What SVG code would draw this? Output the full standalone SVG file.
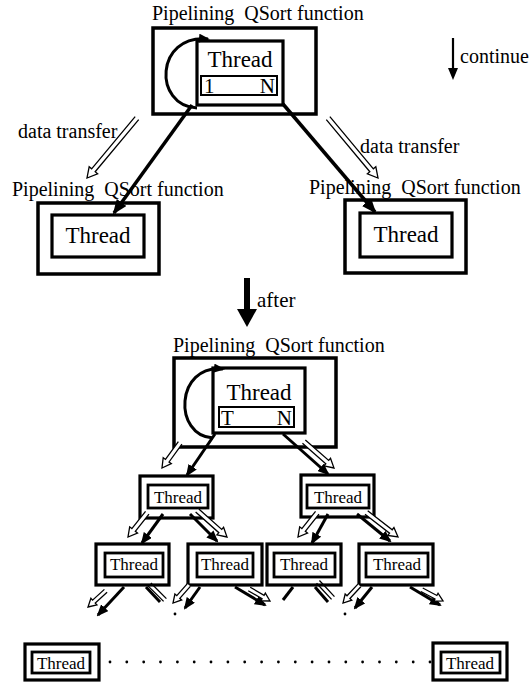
<svg xmlns="http://www.w3.org/2000/svg" xmlns:xlink="http://www.w3.org/1999/xlink" width="531" height="687" viewBox="0 0 531 687" font-family="'Liberation Serif', Tinos, 'DejaVu Serif', serif">
  <style>
    text { font-family: 'Liberation Serif', Tinos, 'DejaVu Serif', serif; fill: #000; }
    .title { font-size: 20px; white-space: pre; }
    .lbl { font-size: 20px; }
    .big { font-size: 23px; text-anchor: middle; }
    .mid { font-size: 21px; }
    .sm { font-size: 17px; text-anchor: middle; }
    .box { fill: #fff; stroke: #000; stroke-width: 3.5; }
    .ibox { fill: #fff; stroke: #000; stroke-width: 3.2; }
    .sub { fill: #fff; stroke: #000; stroke-width: 2; }
    .nbo { fill: #fff; stroke: #000; stroke-width: 3.2; }
    .nbi { fill: #fff; stroke: #000; stroke-width: 2.8; }
    .thick { fill: none; stroke: #000; stroke-width: 3.5; }
    .thin { fill: none; stroke: #000; stroke-width: 3; }
    .hollow { fill: #fff; stroke: #000; stroke-width: 1.3; stroke-linejoin: miter; }
    .loop { fill: none; stroke: #000; stroke-width: 3; }
  </style>
  <defs>
    <marker id="hBig" markerUnits="userSpaceOnUse" markerWidth="16" markerHeight="12" refX="13" refY="6" orient="auto">
      <path d="M0,0 L15,6 L0,12 z" fill="#000"/>
    </marker>
    <marker id="hSm" markerUnits="userSpaceOnUse" markerWidth="12" markerHeight="10" refX="10" refY="5" orient="auto">
      <path d="M0,0 L12,5 L0,10 z" fill="#000"/>
    </marker>
    <marker id="hLoop" markerUnits="userSpaceOnUse" markerWidth="11" markerHeight="9" refX="9" refY="4.5" orient="auto">
      <path d="M0,0 L11,4.5 L0,9 z" fill="#000"/>
    </marker>
    <!-- hollow double-line arrows, tip at origin pointing along +x -->
    <path id="haLong" class="hollow" d="M -78 -2.3 L -10 -2.3 L -10 -5.5 L 0 0 L -10 5.5 L -10 2.3 L -78 2.3"/>
    <path id="haMid" class="hollow" d="M -40 -2.2 L -9 -2.2 L -9 -5 L 0 0 L -9 5 L -9 2.2 L -40 2.2"/>
    <path id="haShort" class="hollow" d="M -31 -2.2 L -9 -2.2 L -9 -5 L 0 0 L -9 5 L -9 2.2 L -31 2.2"/>
    <path id="haTiny" class="hollow" d="M -24 -2 L -8 -2 L -8 -4.5 L 0 0 L -8 4.5 L -8 2 L -24 2"/>
    <path id="dbl" class="hollow" d="M -22 -2 L 0 -2 M -22 2 L 0 2"/>
  </defs>

  <!-- stage 1: root function -->
  <g id="root-function">
    <text class="title" x="152" y="20">Pipelining  QSort function</text>
    <rect class="box" x="153" y="28" width="163" height="86"/>
    <rect class="ibox" x="197" y="41" width="86" height="64"/>
    <text class="big" x="240" y="67">Thread</text>
    <rect class="sub" x="201" y="76" width="76" height="19"/>
    <text class="mid" x="204" y="93">1</text>
    <text class="mid" x="275" y="93" text-anchor="end">N</text>
  </g>

  <g id="left-function">
    <text class="title" x="12" y="196">Pipelining  QSort function</text>
    <rect class="box" x="38" y="203" width="121" height="71"/>
    <rect class="ibox" x="52" y="215" width="92" height="42"/>
    <text class="big" x="98" y="243">Thread</text>
  </g>

  <g id="right-function">
    <text class="title" x="309" y="194">Pipelining  QSort function</text>
    <rect class="box" x="345" y="200" width="121" height="73"/>
    <rect class="ibox" x="360" y="213" width="92" height="44"/>
    <text class="big" x="406" y="242">Thread</text>
  </g>

  <g id="continue-note">
    <line x1="453" y1="38" x2="453" y2="70" stroke="#000" stroke-width="2.2"/>
    <path d="M448,68 L458,68 L453,80 z" fill="#000"/>
    <text class="lbl" x="460" y="63">continue</text>
  </g>

  <g id="after-note">
    <rect x="244" y="278" width="6" height="33" fill="#000"/>
    <path d="M237,309 L257,309 L247,327 z" fill="#000"/>
    <text class="mid" x="257" y="307">after</text>
  </g>

  <!-- stage 2: root function after splitting -->
  <g id="root-function-after">
    <text class="title" x="173" y="352">Pipelining  QSort function</text>
    <rect class="box" x="174" y="358" width="162" height="89"/>
    <rect class="ibox" x="213" y="368" width="92" height="65"/>
    <text class="big" x="259" y="400">Thread</text>
    <rect class="sub" x="219" y="407" width="75" height="20"/>
    <text class="mid" x="221" y="425">T</text>
    <text class="mid" x="292" y="425" text-anchor="end">N</text>
  </g>

  <g id="thread-l">
    <rect class="nbo" x="140" y="476" width="73" height="42"/>
    <rect class="nbi" x="148" y="485" width="60" height="23"/>
    <text class="sm" x="178" y="503">Thread</text>
  </g>
  <g id="thread-r">
    <rect class="nbo" x="301" y="475" width="73" height="42"/>
    <rect class="nbi" x="307" y="485" width="62" height="23"/>
    <text class="sm" x="338" y="503">Thread</text>
  </g>

  <g id="thread-ll">
    <rect class="nbo" x="96" y="544" width="73" height="41"/>
    <rect class="nbi" x="105" y="553" width="58" height="24"/>
    <text class="sm" x="134" y="570">Thread</text>
  </g>
  <g id="thread-lr">
    <rect class="nbo" x="188" y="544" width="74" height="41"/>
    <rect class="nbi" x="197" y="553" width="56" height="24"/>
    <text class="sm" x="225" y="570">Thread</text>
  </g>
  <g id="thread-rl">
    <rect class="nbo" x="267" y="544" width="74" height="41"/>
    <rect class="nbi" x="274" y="553" width="61" height="24"/>
    <text class="sm" x="304" y="570">Thread</text>
  </g>
  <g id="thread-rr">
    <rect class="nbo" x="359" y="544" width="74" height="41"/>
    <rect class="nbi" x="366" y="553" width="62" height="24"/>
    <text class="sm" x="397" y="570">Thread</text>
  </g>

  <g id="thread-first">
    <rect class="nbo" x="25" y="644" width="74" height="36"/>
    <rect class="nbi" x="32" y="652" width="58" height="21"/>
    <text class="sm" x="61" y="669">Thread</text>
  </g>
  <g id="thread-last">
    <rect class="nbo" x="433" y="643" width="74" height="37"/>
    <rect class="nbi" x="441" y="652" width="59" height="21"/>
    <text class="sm" x="470" y="669">Thread</text>
  </g>

  <g id="ellipsis" fill="#000">
    <circle cx="175" cy="614" r="1.4"/>
    <circle cx="345" cy="614" r="1.4"/>
    <circle cx="110" cy="662" r="1.4"/>
    <circle cx="126.8" cy="662" r="1.4"/>
    <circle cx="143.7" cy="662" r="1.4"/>
    <circle cx="160.5" cy="662" r="1.4"/>
    <circle cx="177.4" cy="662" r="1.4"/>
    <circle cx="194.2" cy="662" r="1.4"/>
    <circle cx="211" cy="662" r="1.4"/>
    <circle cx="227.9" cy="662" r="1.4"/>
    <circle cx="244.7" cy="662" r="1.4"/>
    <circle cx="261.6" cy="662" r="1.4"/>
    <circle cx="278.4" cy="662" r="1.4"/>
    <circle cx="295.3" cy="662" r="1.4"/>
    <circle cx="312.1" cy="662" r="1.4"/>
    <circle cx="329" cy="662" r="1.4"/>
    <circle cx="345.8" cy="662" r="1.4"/>
    <circle cx="362.6" cy="662" r="1.4"/>
    <circle cx="379.5" cy="662" r="1.4"/>
    <circle cx="396.3" cy="662" r="1.4"/>
    <circle cx="413.2" cy="662" r="1.4"/>
    <circle cx="430" cy="662" r="1.4"/>
  </g>

  <g id="connectors">
    <!-- self loops -->
    <path class="loop" d="M197,108 C153,106 155,34 208,39" marker-end="url(#hLoop)"/>
    <path class="loop" d="M213,438 C173,436 175,364 223,369" marker-end="url(#hLoop)"/>

    <!-- data transfer (stage 1) -->
    <use xlink:href="#haLong" transform="translate(87,178) rotate(129.8)"/>
    <use xlink:href="#haLong" transform="translate(378,178) rotate(50.2)"/>
    <text class="lbl" x="18" y="138">data transfer</text>
    <text class="lbl" x="360" y="153">data transfer</text>
    <line class="thick" x1="192" y1="105" x2="114" y2="213" marker-end="url(#hBig)"/>
    <line class="thick" x1="283" y1="104" x2="375" y2="212" marker-end="url(#hBig)"/>

    <!-- stage 2: root to level 1 -->
    <use xlink:href="#haShort" transform="translate(162,468) rotate(125.8)"/>
    <line class="thin" x1="215" y1="434" x2="187" y2="475" marker-end="url(#hSm)"/>
    <line class="thin" x1="283" y1="434" x2="328" y2="474" marker-end="url(#hSm)"/>
    <use xlink:href="#haMid" transform="translate(334,468) rotate(41.2)"/>

    <!-- level 1 to level 2 -->
    <use xlink:href="#haShort" transform="translate(128,537) rotate(128.4)"/>
    <line class="thin" x1="163" y1="514" x2="142" y2="543" marker-end="url(#hSm)"/>
    <line class="thin" x1="190" y1="514" x2="217" y2="541" marker-end="url(#hSm)"/>
    <use xlink:href="#haMid" transform="translate(227,537) rotate(41.6)"/>

    <use xlink:href="#haShort" transform="translate(298,537) rotate(128.4)"/>
    <line class="thin" x1="328" y1="514" x2="312" y2="543" marker-end="url(#hSm)"/>
    <line class="thin" x1="357" y1="514" x2="390" y2="541" marker-end="url(#hSm)"/>
    <use xlink:href="#haMid" transform="translate(398,537) rotate(37.7)"/>

    <!-- level 2 onwards -->
    <use xlink:href="#haTiny" transform="translate(88,607) rotate(137.7)"/>
    <line class="thin" x1="124" y1="587" x2="98" y2="615" marker-end="url(#hSm)"/>
    <line class="thin" x1="146" y1="587" x2="160" y2="602"/>
    <use xlink:href="#dbl" transform="translate(165,600) rotate(45)"/>

    <use xlink:href="#haTiny" transform="translate(173,603) rotate(131.4)"/>
    <line class="thin" x1="200" y1="587" x2="185" y2="608" marker-end="url(#hSm)"/>
    <line class="thin" x1="235" y1="587" x2="265" y2="605" marker-end="url(#hSm)"/>
    <use xlink:href="#haTiny" transform="translate(270,601) rotate(30)"/>

    <line class="thin" x1="293" y1="587" x2="283" y2="600"/>
    <line class="thin" x1="315" y1="587" x2="328" y2="602"/>
    <use xlink:href="#dbl" transform="translate(333,598) rotate(47)"/>

    <use xlink:href="#haTiny" transform="translate(343,603) rotate(133)"/>
    <line class="thin" x1="372" y1="587" x2="355" y2="608" marker-end="url(#hSm)"/>
    <line class="thin" x1="410" y1="587" x2="440" y2="605" marker-end="url(#hSm)"/>
    <use xlink:href="#haTiny" transform="translate(443,601) rotate(28)"/>
  </g>
</svg>
